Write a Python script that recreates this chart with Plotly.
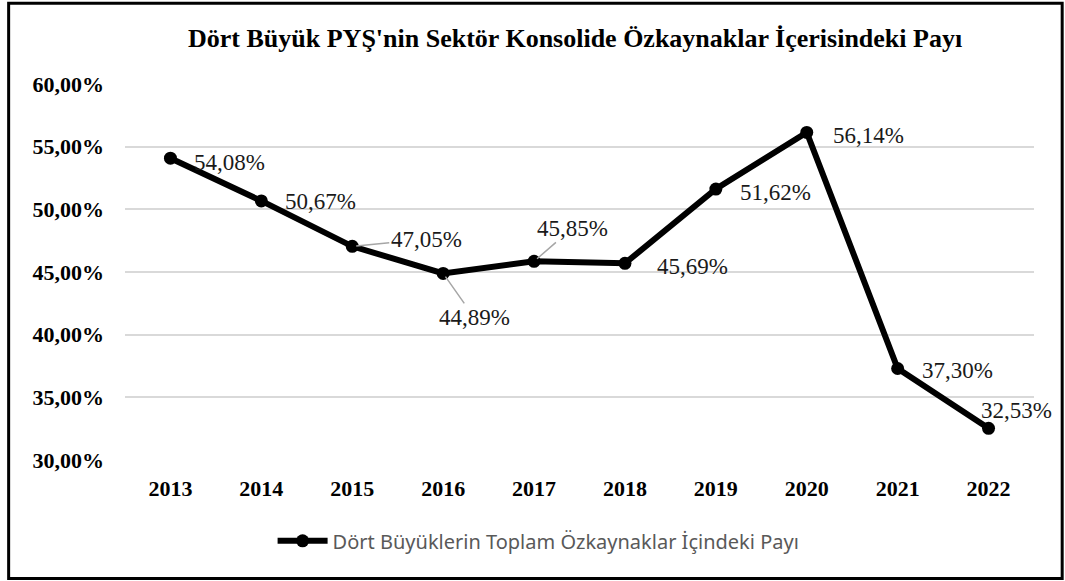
import plotly.graph_objects as go

years = ["2013", "2014", "2015", "2016", "2017", "2018", "2019", "2020", "2021", "2022"]
share = [54.08, 50.67, 47.05, 44.89, 45.85, 45.69, 51.62, 56.14, 37.30, 32.53]
labels = ["54,08%", "50,67%", "47,05%", "44,89%", "45,85%", "45,69%", "51,62%", "56,14%", "37,30%", "32,53%"]
y_ticks = [30, 35, 40, 45, 50, 55, 60]
y_ticktext = ["30,00%", "35,00%", "40,00%", "45,00%", "50,00%", "55,00%", "60,00%"]

serif = "Liberation Serif, Times New Roman, serif"

fig = go.Figure()
fig.add_trace(go.Scatter(
    x=years, y=share, mode="lines+markers",
    name="Dört Büyüklerin Toplam Özkaynaklar İçindeki Payı",
    line=dict(color="black", width=6),
    marker=dict(color="black", size=13),
))

# label placement per point: (style, dx, dy) -- "leader" draws a gray line to the point
placement = [
    ("plain", 22, -4), ("plain", 22, -1), ("leader", 74, -7), ("leader", 31, 44),
    ("leader", 38, -33), ("plain", 30, -3), ("plain", 22, -3), ("plain", 24, -3),
    ("plain", 22, -2), ("center", 28, 18),
]
label_font = dict(family=serif, size=23, color="#1a1a1a")
for i, (v, txt, (kind, dx, dy)) in enumerate(zip(share, labels, placement)):
    if kind == "leader":
        fig.add_annotation(x=i, y=v, text=txt, showarrow=True, arrowhead=0,
                           arrowwidth=1.5, arrowcolor="#a6a6a6", ax=dx, ay=dy,
                           standoff=4, font=label_font)
    elif kind == "center":
        fig.add_annotation(x=i, y=v, text=txt, showarrow=False, xanchor="center",
                           xshift=dx, yshift=dy, font=label_font)
    else:
        fig.add_annotation(x=i, y=v, text=txt, showarrow=False, xanchor="left",
                           xshift=dx, yshift=dy, font=label_font)

# outer frame
fig.add_shape(type="rect", xref="paper", yref="paper",
              x0=-0.128, x1=1.031, y0=-0.315, y1=1.215,
              line=dict(color="black", width=3))

fig.update_layout(
    width=1065, height=581,
    margin=dict(l=125, r=31, t=84, b=121, autoexpand=False),
    paper_bgcolor="white", plot_bgcolor="white",
    title=dict(text="<b>Dört Büyük PYŞ'nin Sektör Konsolide Özkaynaklar İçerisindeki Payı</b>",
               x=0.54, xanchor="center", y=0.935, yanchor="middle",
               font=dict(family=serif, size=26, color="black")),
    showlegend=True,
    legend=dict(orientation="h", x=0.455, xanchor="center", y=-0.215, yanchor="middle",
                font=dict(family="Noto Sans, sans-serif", size=20, color="#595959"),
                itemwidth=50),
)
fig.update_xaxes(type="category", range=[-0.5, len(years) - 0.5], autorange=False,
                 showgrid=False, showline=False, ticks="",
                 tickvals=years, ticktext=[f"<b>{y}</b>" for y in years],
                 tickfont=dict(family=serif, size=22, color="black"),
                 ticklabelstandoff=13)
fig.update_yaxes(range=[30, 60], tickvals=y_ticks, ticktext=[f"<b>{t}</b>" for t in y_ticktext],
                 showgrid=True, gridcolor="#d9d9d9", gridwidth=1.5, zeroline=False,
                 showline=False, ticks="", ticklabelstandoff=20,
                 tickfont=dict(family=serif, size=22, color="black"))

fig.write_html("out.html", config={"displayModeBar": False},
               post_script="document.body.style.margin='0';")
